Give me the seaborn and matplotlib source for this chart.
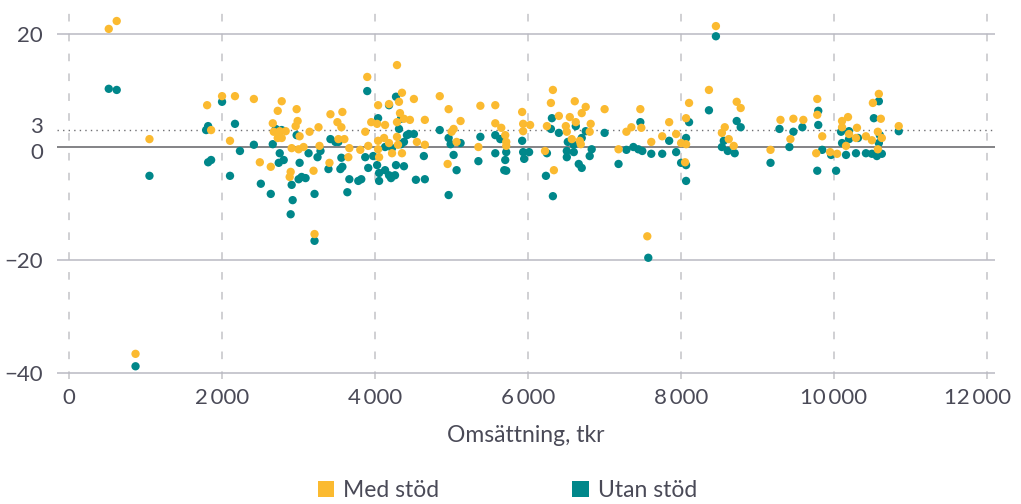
import matplotlib
matplotlib.use("Agg")
import matplotlib.pyplot as plt
import matplotlib.transforms as mtransforms
from matplotlib.patches import Patch
import seaborn as sns
import pandas as pd

# Med stöd (gul)
med_x = [520, 624, 1052, 870, 1806, 1858, 2001, 2170, 2105, 2417, 2495, 2638, 2781, 2729, 2664,
         2677, 2755, 2833, 2729, 2781, 2976, 2989, 2963, 3015, 2898, 2885, 2911, 3002, 3067, 3145,
         3262, 3275, 3197, 3210, 3418, 3574, 3509, 3561, 3522, 3600, 3665, 3652, 3405, 3808, 3912,
         3899, 3873, 3951, 4041, 4028, 4041, 4041, 4054, 4132, 4119, 4184, 4223, 4184, 4288, 4353,
         4314, 4509, 4327, 4379, 4457, 4288, 4288, 4301, 4353, 4548, 4652, 4652, 4847, 4963, 5002,
         5028, 5067, 5119, 4950, 5378, 5352, 5573, 5573, 5651, 5703, 5716, 5716, 5924, 5937, 6028,
         5937, 6223, 6326, 6300, 6339, 6248, 6404, 6495, 6508, 6547, 6612, 6625, 6703, 6755, 6677,
         6690, 6807, 6820, 6573, 7002, 7184, 7287, 7352, 7469, 7482, 7612, 7755, 7846, 7937, 8002,
         8067, 8106, 8067, 8054, 8366, 8535, 8573, 8625, 8690, 8729, 8781, 7560, 8457, 9171, 9301,
         9431, 9470, 9600, 9782, 9782, 9847, 9768, 9950, 10041, 10106, 10106, 10184, 10197, 10158,
         10301, 10288, 10418, 10496, 10509, 10587, 10613, 10574, 10626, 10574, 10847]
med_y = [20.9, 22.3, 1.4, -36.6, 7.4, 3.0, 9.0, 9.0, 1.1, 8.5, -2.7, -3.5, 8.1, 6.4, 4.2,
         2.7, 2.8, 2.8, 1.6, 1.6, 6.7, 4.6, 3.7, 1.9, -4.4, -5.3, -0.2, -0.4, 0.0, 2.7,
         3.5, 0.2, -4.2, -15.4, 5.8, 6.2, 4.4, 3.5, 1.4, 1.4, -0.2, -1.8, -2.8, -0.5, 0.2,
         12.4, 2.7, 4.4, 7.4, 4.1, 1.1, -0.4, -1.8, 3.9, 1.6, 0.7, -1.1, 7.6, 14.5, 9.6,
         8.0, 8.5, 6.0, 5.0, 4.8, 4.4, 1.8, 0.4, -1.1, 0.9, 4.8, 0.4, 9.0, 6.7, 2.7,
         3.2, 0.9, 4.6, -3.0, 7.3, 0.0, 7.4, 4.2, 3.4, 2.1, 0.9, 0.2, 6.2, 4.1, 3.9,
         2.8, -0.7, 10.1, 7.8, -4.1, 3.7, 5.5, 3.7, 2.7, 5.3, 8.1, 4.4, 6.0, 7.1, 1.1,
         0.5, 2.7, 4.1, 1.4, 6.7, -0.4, 2.7, 3.5, 6.7, 3.4, 0.9, 1.9, 4.4, 2.3, 0.7,
         0.5, 7.8, 5.1, -2.7, 10.1, 2.5, 3.5, 1.4, 0.2, 8.0, 6.9, -15.8, 21.4, -0.5, 4.8,
         1.4, 5.0, 4.8, 8.5, 5.7, 1.9, -1.1, -0.9, -1.2, 4.6, 3.5, 5.3, 2.3, 0.2,
         3.4, 1.6, 1.9, 1.2, 7.8, 9.4, 5.0, 2.7, 1.6, -0.4, 3.7]

# Utan stöd (turkos)
utan_x = [520, 624, 1052, 870, 1793, 1819, 2001, 2170, 1819, 1858, 2235, 2105, 2417, 2508, 2638,
          2664, 2703, 2781, 2755, 2742, 2807, 2911, 2924, 2898, 2976, 3015, 3002, 3041, 3093, 3132,
          3249, 3288, 3210, 3210, 3418, 3483, 3522, 3392, 3561, 3548, 3574, 3665, 3639, 3782, 3821,
          3873, 3912, 3899, 3977, 4041, 4028, 4054, 4054, 4132, 4184, 4210, 4262, 4132, 4223, 4275,
          4184, 4275, 4340, 4314, 4340, 4379, 4418, 4444, 4509, 4379, 4535, 4652, 4639, 4847, 4963,
          4989, 5119, 5028, 5067, 4963, 5378, 5352, 5573, 5638, 5573, 5716, 5703, 5690, 5716, 5924,
          5937, 6015, 5950, 6313, 6404, 6300, 6248, 6235, 6326, 6508, 6521, 6599, 6599, 6508, 6625,
          6703, 6755, 6664, 6703, 6833, 6807, 7002, 7184, 7287, 7378, 7443, 7495, 7469, 7612, 7755,
          7846, 7937, 8002, 8067, 8067, 8106, 8067, 8366, 8535, 8560, 8612, 8703, 8729, 8781, 8457,
          7573, 9171, 9288, 9418, 9470, 9587, 9795, 9795, 9782, 9847, 9963, 10028, 10093, 10106,
          10158, 10197, 10197, 10288, 10314, 10418, 10496, 10522, 10587, 10600, 10587, 10561, 10626,
          10847]
utan_y = [10.3, 10.1, -5.1, -38.8, 3.0, 3.7, 8.0, 4.1, -2.7, -2.3, -0.7, -5.1, 0.4, -6.5, -8.3,
          0.5, 3.2, 3.0, -1.1, -2.8, -2.3, -6.7, -9.4, -11.9, 2.1, -2.8, -5.7, -5.3, -5.5, -1.1,
          -1.8, -0.7, -8.3, -16.6, 1.4, 0.9, 0.9, -3.9, -1.9, -3.9, -3.5, -5.7, -8.0, -6.0, -5.7,
          -1.8, -3.7, 9.9, -1.6, 5.1, -3.2, -4.6, -6.0, -4.1, -5.0, -5.5, -5.0, 0.0, -0.2, 8.9,
          7.4, -3.2, 5.0, 3.2, 0.5, 0.9, 2.1, 2.3, 2.3, -3.4, -5.8, -5.7, -1.6, 3.0, 1.6,
          0.5, 0.7, -1.4, -4.1, -8.5, 1.8, -2.5, 2.1, 1.4, -1.1, -0.9, -2.3, -4.1, -4.2, 1.1,
          -0.9, -0.9, -2.1, 5.1, 2.5, 3.2, -1.1, -5.1, -8.7, -0.7, 0.9, -0.9, 0.4, -1.8, 3.7,
          1.6, 2.8, -3.0, -3.7, -0.4, -1.6, 2.5, -3.0, -0.5, 0.0, -0.4, -0.7, 4.4, -1.2, -1.2,
          1.1, -0.9, -2.8, -3.2, 1.6, 4.4, -6.0, 6.5, 0.0, 1.1, -0.7, -1.1, 4.6, 3.5, 19.6,
          -19.6, -2.8, 3.2, 0.0, 2.7, 3.5, 6.4, 3.9, -4.2, -0.5, -1.4, -4.2, 2.7, 0.7,
          -1.4, 2.8, 1.4, -1.1, 1.6, -1.1, -1.2, 5.1, 8.1, 2.1, 0.7, -1.6, -1.2,
          2.8]

grupper = ["Med stöd", "Utan stöd"]
farger = {"Med stöd": "#FBBA30", "Utan stöd": "#00878A"}
x_ticks = [0, 2000, 4000, 6000, 8000, 10000, 12000]
y_ticks = [-40, -20, 0, 3, 20]
y_labels = ["\u221240", "\u221220", "0", "3", "20"]

df = pd.concat([
    pd.DataFrame({"oms": utan_x, "diff": utan_y, "grupp": "Utan stöd"}),
    pd.DataFrame({"oms": med_x, "diff": med_y, "grupp": "Med stöd"}),
], ignore_index=True)

sns.set_style("white")
plt.rcParams["font.family"] = ["Lato", "DejaVu Sans"]
textfarg = "#4a4a57"

fig = plt.figure(figsize=(10.21, 5.04), dpi=100)
ax = fig.add_axes([0.0558, 0.2486, 0.9187, 0.7288])

# rutnät
for xv in x_ticks:
    ax.axvline(xv, color="#c4c4c8", lw=1.1, linestyle=(0, (5, 8)), zorder=0)
for yv in [-40, -20, 20]:
    ax.axhline(yv, color="#b9b9c2", lw=1.1, zorder=0)
ax.axhline(0, color="#6e6e72", lw=1.2, zorder=1)
ax.axhline(3, color="#707074", lw=1.0, linestyle=(0, (1, 3)), zorder=1)

sns.scatterplot(data=df, x="oms", y="diff", hue="grupp", palette=farger,
                s=36, linewidth=0, legend=False, ax=ax, zorder=3)

ax.set_xlim(-157, 12105)
ax.set_ylim(-41, 24)
ax.set_xticks(x_ticks)
ax.set_xticklabels([f"{v:,}".replace(",", "\u2009") for v in x_ticks])
ax.set_yticks(y_ticks)
ax.set_yticklabels(y_labels)
ax.tick_params(axis="both", length=0, labelsize=16, labelcolor=textfarg)
ax.tick_params(axis="y", pad=10)
ax.tick_params(axis="x", pad=7)
ax.set_xlabel("Omsättning, tkr", fontsize=16.5, color=textfarg, labelpad=12)
ax.set_ylabel("")
sns.despine(ax=ax, left=True, bottom=True, top=True, right=True)

# små förskjutningar så att 3 och 0 inte krockar
ylabs = ax.get_yticklabels()
ylabs[3].set_transform(ylabs[3].get_transform() + mtransforms.ScaledTranslation(0, 4 / 72, fig.dpi_scale_trans))
ylabs[2].set_transform(ylabs[2].get_transform() + mtransforms.ScaledTranslation(0, -3 / 72, fig.dpi_scale_trans))
xlabs = ax.get_xticklabels()
xlabs[-1].set_transform(xlabs[-1].get_transform() + mtransforms.ScaledTranslation(-7 / 72, 0, fig.dpi_scale_trans))

handles = [Patch(facecolor=farger[g], edgecolor="none", label=g) for g in grupper]
fig.legend(handles=handles, loc="center", bbox_to_anchor=(0.497, 0.027), ncol=2,
           frameon=False, fontsize=16.5, handlelength=0.72, handleheight=0.72,
           handletextpad=0.4, columnspacing=5.8, labelcolor=textfarg, borderpad=0.2)

fig.savefig("out.png", dpi=100)
